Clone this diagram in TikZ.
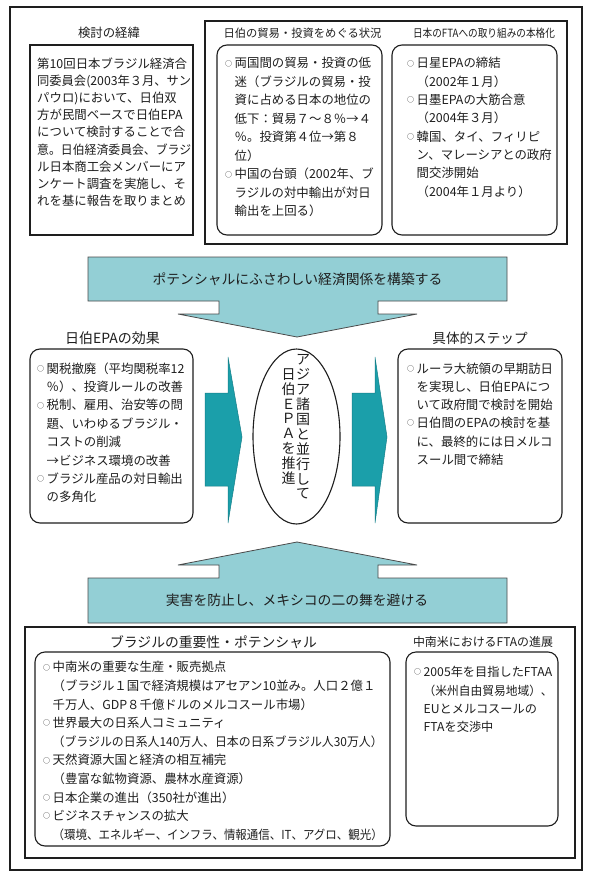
\documentclass[tikz,border=0pt]{standalone}
\usepackage{fontspec}
\usepackage{graphicx}
\setmainfont{Noto Sans CJK JP}
\usetikzlibrary{shapes.geometric}
\definecolor{lteal}{HTML}{93CFD5}
\definecolor{dteal}{HTML}{1B9FAA}
\definecolor{ink}{HTML}{1E1E1E}
\newlength\fitw
\newcommand\fitl[2]{\settowidth\fitw{#2}\ifdim\fitw>#1\relax\resizebox{#1}{\height}{#2}\else#2\fi}
\newcommand\lnA[1]{\fitl{154pt}{#1}}
\newcommand\lnB[1]{\fitl{144pt}{#1}}
\newcommand\lnC[1]{\fitl{137pt}{#1}}
\newcommand\lnD[1]{\fitl{141pt}{#1}}
\newcommand\lnE[1]{\fitl{140pt}{#1}}
\newcommand\lnF[1]{\fitl{330pt}{#1}}
\newcommand\lnG[1]{\fitl{129pt}{#1}}
\newcommand\bul{\makebox[9.5pt][l]{\raisebox{1.9pt}{\fontsize{7}{7}\selectfont ○}}}
\newcommand\ind{\hspace*{9.5pt}}
\begin{document}
\begin{tikzpicture}[x=1pt,y=-1pt,
  frame/.style={draw=ink, line width=1.1pt},
  rbox/.style={draw=ink, line width=1.1pt, rounded corners=10pt},
  body/.style={anchor=north west, inner sep=0pt, align=left, text=ink},
  ttl/.style={inner sep=0pt, text=ink},
  banner/.style={draw=ink!80, line width=0.8pt, fill=lteal},
  darr/.style={fill=dteal, draw=dteal!80!black, line width=0.5pt}]
\useasboundingbox (0,0) rectangle (590,880);
\fill[white] (0,0) rectangle (590,880);
% frames and boxes
\draw[frame, line width=1.4pt] (10,7) rectangle (582,870);
\draw[frame] (205,21) rectangle (567,244);
\draw[frame] (30,45) rectangle (193,235);
\draw[rbox] (217,45) rectangle (382,235);
\draw[rbox] (392,45) rectangle (557,235);
\draw[rbox] (30,349) rectangle (193,523);
\draw[rbox] (398,349) rectangle (562,523);
\draw[frame] (25,627) rectangle (575,858);
\draw[rbox] (35,652) rectangle (390,846);
\draw[rbox] (406,652) rectangle (558,826);
% banners
\draw[banner] (88,257) -- (507,257) -- (507,301) -- (378,301) -- (378,314) -- (417,314) -- (297,337) -- (178,314) -- (219,314) -- (219,301) -- (88,301) -- cycle;
\draw[banner] (88,623) -- (507,623) -- (507,578) -- (378,578) -- (378,565) -- (417,565) -- (297,542) -- (178,565) -- (219,565) -- (219,578) -- (88,578) -- cycle;
\node[ttl, font=\fontsize{13.8}{15}\selectfont] (bn1) at (297.5,279.5) {ポテンシャルにふさわしい経済関係を構築する};
\node[ttl, font=\fontsize{13.8}{15}\selectfont] (bn2) at (297,600) {実害を防止し、メキシコの二の舞を避ける};
% dark arrows
\filldraw[darr] (205,393) -- (228,393) -- (228,357) -- (242,437) -- (228,523) -- (228,486) -- (205,486) -- cycle;
\filldraw[darr] (352,393) -- (375,393) -- (375,357) -- (387,437) -- (375,523) -- (375,486) -- (352,486) -- cycle;
% ellipse
\node[draw=ink, line width=1.1pt, ellipse, minimum width=87pt, minimum height=175pt, inner sep=0pt] (ell) at (296.5,436.5) {};
\node[ttl, align=center, font=\fontsize{14}{14.9}\selectfont] (vr) at (303,427) {ア\\ジ\\ア\\諸\\国\\と\\並\\行\\し\\て};
\node[ttl, align=center, font=\fontsize{14}{14.9}\selectfont] (vl) at (288.5,426.5) {日\\伯\\Ｅ\\Ｐ\\Ａ\\を\\推\\進};
% titles
\node[ttl, font=\fontsize{12.4}{14}\selectfont] (t1) at (109,33) {検討の経緯};
\node[ttl, font=\fontsize{11.3}{13}\selectfont] (t2) at (302.5,33) {日伯の貿易・投資をめぐる状況};
\node[ttl, font=\fontsize{11.3}{13}\selectfont] (t3) at (484,33) {\resizebox{142pt}{\height}{日本のFTAへの取り組みの本格化}};
\node[ttl, font=\fontsize{14}{15}\selectfont] (t4) at (112.5,338) {日伯EPAの効果};
\node[ttl, font=\fontsize{13.6}{15}\selectfont] (t5) at (480,338) {具体的ステップ};
\node[ttl, font=\fontsize{13.8}{15}\selectfont] (t6) at (213.5,642) {ブラジルの重要性・ポテンシャル};
\node[ttl, font=\fontsize{12}{14}\selectfont] (t7) at (483,642) {\resizebox{140pt}{\height}{中南米におけるFTAの進展}};
% body texts
\node[body, font=\fontsize{12.4}{17.2}\selectfont] (x1) at (37,57.3) {%
\lnA{第10回日本ブラジル経済合}\\
\lnA{同委員会(2003年３月、サン}\\
\lnA{パウロ)において、日伯双}\\
\lnA{方が民間ベースで日伯EPA}\\
\lnA{について検討することで合}\\
\lnA{意。日伯経済委員会、ブラジ}\\
\lnA{ル日本商工会メンバーにア}\\
\lnA{ンケート調査を実施し、そ}\\
\lnA{れを基に報告を取りまとめ}};
\node[body, font=\fontsize{12.4}{18.5}\selectfont] (x2) at (225,57.3) {%
\bul\lnB{両国間の貿易・投資の低}\\
\ind\lnB{迷（ブラジルの貿易・投}\\
\ind\lnB{資に占める日本の地位の}\\
\ind\lnB{低下：貿易７～８％→４}\\
\ind\lnB{％。投資第４位→第８}\\
\ind\lnB{位）}\\
\bul\lnB{中国の台頭（2002年、ブ}\\
\ind\lnB{ラジルの対中輸出が対日}\\
\ind\lnB{輸出を上回る）}};
\node[body, font=\fontsize{12.4}{18.3}\selectfont] (x3) at (407,57.3) {%
\bul\lnC{日星EPAの締結}\\
\ind\lnC{（2002年１月）}\\
\bul\lnC{日墨EPAの大筋合意}\\
\ind\lnC{（2004年３月）}\\
\bul\lnC{韓国、タイ、フィリピ}\\
\ind\lnC{ン、マレーシアとの政府}\\
\ind\lnC{間交渉開始}\\
\ind\lnC{（2004年１月より）}};
\node[body, font=\fontsize{12.4}{18.4}\selectfont] (x4) at (37,362.3) {%
\bul\lnD{関税撤廃（平均関税率12}\\
\ind\lnD{％）、投資ルールの改善}\\
\bul\lnD{税制、雇用、治安等の問}\\
\ind\lnD{題、いわゆるブラジル・}\\
\ind\lnD{コストの削減}\\
\ind\lnD{→ビジネス環境の改善}\\
\bul\lnD{ブラジル産品の対日輸出}\\
\ind\lnD{の多角化}};
\node[body, font=\fontsize{12.4}{18.2}\selectfont] (x5) at (407,362.6) {%
\bul\lnE{ルーラ大統領の早期訪日}\\
\ind\lnE{を実現し、日伯EPAにつ}\\
\ind\lnE{いて政府間で検討を開始}\\
\bul\lnE{日伯間のEPAの検討を基}\\
\ind\lnE{に、最終的には日メルコ}\\
\ind\lnE{スール間で締結}};
\node[body, font=\fontsize{12.4}{18.6}\selectfont] (x6) at (43,661.3) {%
\bul\lnF{中南米の重要な生産・販売拠点}\\
\ind\lnF{（ブラジル１国で経済規模はアセアン10並み。人口２億１}\\
\ind\lnF{千万人、GDP８千億ドルのメルコスール市場）}\\
\bul\lnF{世界最大の日系人コミュニティ}\\
\ind\lnF{（ブラジルの日系人140万人、日本の日系ブラジル人30万人）}\\
\bul\lnF{天然資源大国と経済の相互補完}\\
\ind\lnF{（豊富な鉱物資源、農林水産資源）}\\
\bul\lnF{日本企業の進出（350社が進出）}\\
\bul\lnF{ビジネスチャンスの拡大}\\
\ind\lnF{（環境、エネルギー、インフラ、情報通信、IT、アグロ、観光）}};
\node[body, font=\fontsize{12.2}{18.2}\selectfont] (x7) at (414,666.3) {%
\bul\lnG{2005年を目指したFTAA}\\
\ind\lnG{（米州自由貿易地域）、}\\
\ind\lnG{EUとメルコスールの}\\
\ind\lnG{FTAを交渉中}};
\end{tikzpicture}
\end{document}
